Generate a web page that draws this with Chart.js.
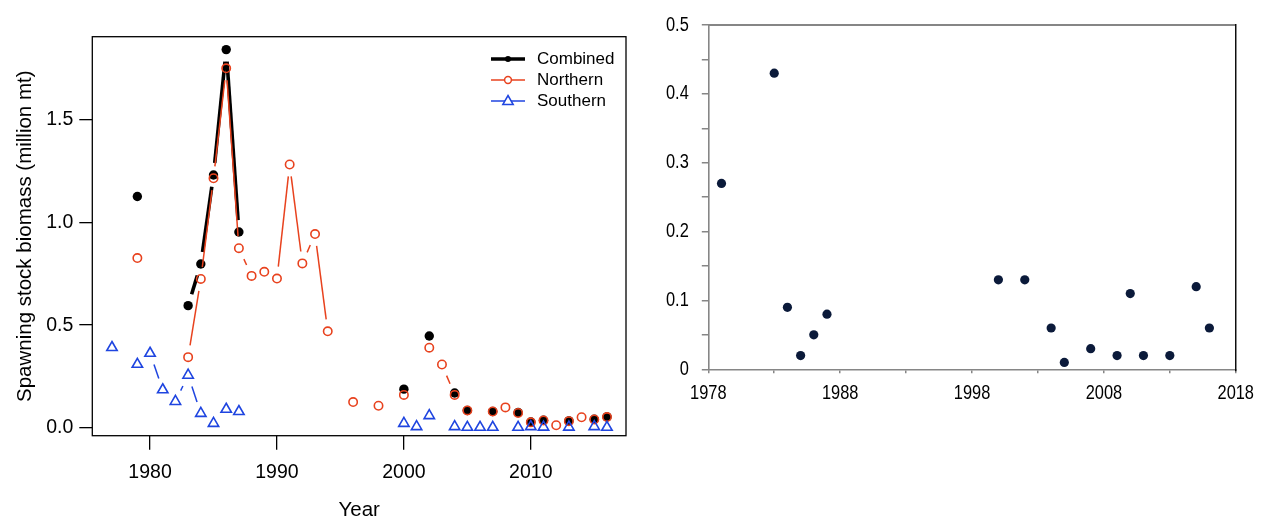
<!DOCTYPE html>
<html><head><meta charset="utf-8">
<script src="https://cdn.jsdelivr.net/npm/chart.js@4"></script>
<style>
html,body{margin:0;padding:0;background:#fff;}
#wrap{position:relative;width:1266px;height:523px;overflow:hidden;background:#fff;}
#left{position:absolute;left:0;top:0;width:640px;height:523px;}
#right{position:absolute;left:640px;top:0;width:626px;height:523px;}
#legend{position:absolute;left:491px;top:48px;font-family:"Liberation Sans",Arial,sans-serif;font-size:17px;color:#000;}
.row{display:flex;align-items:center;height:21.2px;white-space:nowrap;}
.row svg{width:34px;height:14px;margin-right:12px;flex:none;}
</style></head>
<body><div id="wrap">
<div id="left"><canvas id="c1"></canvas>
<div id="legend">
<div class="row"><svg viewBox="0 0 34 14"><line x1="0" y1="7" x2="34" y2="7" stroke="#000" stroke-width="3.5"/><circle cx="17" cy="7" r="3" fill="#000"/></svg><span>Combined</span></div>
<div class="row"><svg viewBox="0 0 34 14"><line x1="0" y1="7" x2="34" y2="7" stroke="#e8421e" stroke-width="1.5"/><circle cx="17" cy="7" r="3.4" fill="#fff" stroke="#e8421e" stroke-width="1.5"/></svg><span>Northern</span></div>
<div class="row"><svg viewBox="0 0 34 14"><line x1="0" y1="7" x2="34" y2="7" stroke="#1f45e0" stroke-width="1.5"/><polygon points="17,1.5 22.2,10.5 11.8,10.5" fill="#fff" stroke="#1f45e0" stroke-width="1.5"/></svg><span>Southern</span></div>
</div>
</div>
<div id="right"><canvas id="c2"></canvas></div>
</div>
<script>
// ---- Left panel data ----
const combinedYears  = [1979,1983,1984,1985,1986,1987,2000,2002,2004,2005,2007,2009,2010,2011,2013,2015,2016];
const combinedValues = [1.127,0.595,0.798,1.232,1.843,0.954,0.188,0.447,0.169,0.084,0.079,0.074,0.028,0.036,0.033,0.041,0.053];
const northernYears  = [1979,1983,1984,1985,1986,1987,1988,1989,1990,1991,1992,1993,1994,1996,1998,2000,2002,2003,2004,2005,2007,2008,2009,2010,2011,2012,2013,2014,2015,2016];
const northernValues = [0.827,0.344,0.725,1.216,1.752,0.875,0.740,0.760,0.727,1.283,0.801,0.944,0.470,0.125,0.107,0.160,0.390,0.308,0.160,0.084,0.079,0.099,0.072,0.026,0.035,0.012,0.032,0.051,0.040,0.052];
const southernYears  = [1977,1979,1980,1981,1982,1983,1984,1985,1986,1987,2000,2001,2002,2004,2005,2006,2007,2009,2010,2011,2013,2015,2016];
const southernValues = [0.391,0.309,0.363,0.185,0.128,0.256,0.070,0.021,0.090,0.079,0.021,0.005,0.059,0.005,0.002,0.002,0.002,0.002,0.005,0.003,0.003,0.005,0.002];
const seriesNames = ['Combined','Northern','Southern'];
const leftXTicks = [1980,1990,2000,2010];
const leftXTickLabels = ['1980','1990','2000','2010'];
const leftYTicks = [0,0.5,1.0,1.5];
const leftYTickLabels = ['0.0','0.5','1.0','1.5'];
const leftXTitle = 'Year';
const leftYTitle = 'Spawning stock biomass (million mt)';

// ---- Right panel data ----
const rightYears  = [1979,1983,1984,1985,1986,1987,2000,2002,2004,2005,2007,2009,2010,2011,2013,2015,2016];
const rightValues = [0.27,0.43,0.09,0.02,0.05,0.08,0.13,0.13,0.06,0.01,0.03,0.02,0.11,0.02,0.02,0.12,0.06];
const rightXTicks = [1978,1983,1988,1993,1998,2003,2008,2013,2018];
const rightXTickLabels = ['1978','','1988','','1998','','2008','','2018'];
const rightYTicks = [0,0.05,0.1,0.15,0.2,0.25,0.3,0.35,0.4,0.45,0.5];
const rightYTickLabels = ['0','','0.1','','0.2','','0.3','','0.4','','0.5'];

const RED = '#e8421e', BLUE = '#1f45e0';
const FONT = '"Liberation Sans", Arial, sans-serif';

function pts(xs, ys){ return xs.map((x,i)=>({x:x, y:ys[i]})); }

// R "type=b" style: line segments with a gap around each point; no line across missing years
function gapDash(gap){
  return ctx => {
    const p0 = ctx.p0, p1 = ctx.p1;
    const len = Math.hypot(p1.x - p0.x, p1.y - p0.y);
    const data = ctx.chart.data.datasets[ctx.datasetIndex].data;
    const dy = data[ctx.p1DataIndex].x - data[ctx.p0DataIndex].x;
    const vis = len - 2*gap;
    if (dy > 1.01 || vis <= 0.3) return [0, len + 1000];
    return [0, gap, vis, len + 1000];
  };
}

const boxPlugin = {
  id:'box',
  afterDraw(chart){
    const {ctx, chartArea:a} = chart;
    ctx.save(); ctx.strokeStyle='#000'; ctx.lineWidth=1.3;
    ctx.strokeRect(a.left, a.top, a.right-a.left, a.bottom-a.top);
    ctx.restore();
  }
};

new Chart(document.getElementById('c1'), {
  type:'line',
  data:{ datasets:[
    { label:seriesNames[2], data:pts(southernYears, southernValues), borderColor:BLUE, borderWidth:1.5,
      pointStyle:'triangle', pointRadius:6, pointBorderWidth:1.6, pointBorderColor:BLUE,
      pointBackgroundColor:'rgba(0,0,0,0)', segment:{borderDash:gapDash(12)} },
    { label:seriesNames[1], data:pts(northernYears, northernValues), borderColor:RED, borderWidth:1.5,
      pointStyle:'circle', pointRadius:4.2, pointBorderWidth:1.6, pointBorderColor:RED,
      pointBackgroundColor:'rgba(0,0,0,0)', segment:{borderDash:gapDash(12)} },
    { label:seriesNames[0], data:pts(combinedYears, combinedValues), borderColor:'#000', borderWidth:3.6,
      pointStyle:'circle', pointRadius:4.7, pointBorderWidth:0, pointBackgroundColor:'#000',
      segment:{borderDash:gapDash(12)} }
  ]},
  options:{
    responsive:true, maintainAspectRatio:false, animation:false, devicePixelRatio:1, events:[],
    layout:{padding:{top:36.7, right:14, left:0, bottom:0}},
    plugins:{legend:{display:false}, tooltip:{enabled:false}},
    elements:{line:{tension:0}},
    scales:{
      x:{ type:'linear', min:1975.45, max:2017.5,
        afterBuildTicks: s => { s.ticks = leftXTicks.map(v=>({value:v})); },
        afterFit: s => { s.height = 87.3; },
        ticks:{ color:'#000', font:{family:FONT, size:19.5}, padding:11, maxRotation:0,
          callback:(v)=> leftXTickLabels[leftXTicks.indexOf(v)] },
        grid:{ drawOnChartArea:false, drawTicks:true, tickLength:14, color:'#000', lineWidth:1.3 },
        border:{display:false},
        title:{ display:true, text:leftXTitle, color:'#000', font:{family:FONT, size:20.5}, padding:{top:0,bottom:0} }
      },
      y:{ type:'linear', min:-0.039, max:1.906,
        afterBuildTicks: s => { s.ticks = leftYTicks.map(v=>({value:v})); },
        afterFit: s => { s.width = 92.3; },
        ticks:{ color:'#000', font:{family:FONT, size:19.5}, padding:6,
          callback:(v)=> leftYTickLabels[leftYTicks.indexOf(v)] },
        grid:{ drawOnChartArea:false, drawTicks:true, tickLength:13, color:'#000', lineWidth:1.3 },
        border:{display:false},
        title:{ display:true, text:leftYTitle, color:'#000', font:{family:FONT, size:20.5}, padding:{top:13,bottom:0} }
      }
    }
  },
  plugins:[boxPlugin]
});

const frame2 = {
  id:'frame2',
  afterDraw(chart){
    const {ctx, chartArea:a} = chart;
    ctx.save();
    ctx.strokeStyle='#868686'; ctx.lineWidth=2;
    ctx.beginPath(); ctx.moveTo(a.left, a.top); ctx.lineTo(a.right, a.top); ctx.stroke();
    ctx.strokeStyle='#000'; ctx.lineWidth=1.4;
    ctx.beginPath(); ctx.moveTo(a.right, a.top-1); ctx.lineTo(a.right, a.bottom+2); ctx.stroke();
    ctx.restore();
  }
};

// Narrow (condensed) tick text like the reference's Arial Narrow labels
const narrowText = {
  id:'narrowText',
  beforeDraw(chart){
    const ctx = chart.ctx;
    const orig = CanvasRenderingContext2D.prototype.fillText;
    ctx.fillText = function(t, x, y){
      this.save(); this.translate(x, y); this.scale(0.82, 1);
      orig.call(this, t, 0, 0);
      this.restore();
    };
  },
  afterDraw(chart){ delete chart.ctx.fillText; }
};

new Chart(document.getElementById('c2'), {
  type:'scatter',
  data:{ datasets:[{ data:pts(rightYears, rightValues), pointRadius:4.6, pointBackgroundColor:'#0b1a3a',
    pointBorderWidth:0, showLine:false }]},
  options:{
    responsive:true, maintainAspectRatio:false, animation:false, devicePixelRatio:1, events:[],
    layout:{padding:{top:22, right:26.7, left:0, bottom:0}},
    plugins:{legend:{display:false}, tooltip:{enabled:false}},
    scales:{
      x:{ type:'linear', min:1978, max:2018,
        afterBuildTicks: s => { s.ticks = rightXTicks.map(v=>({value:v})); },
        afterFit: s => { s.height = 153.7; },
        ticks:{ color:'#000', font:{family:FONT, size:20}, padding:8, maxRotation:0, autoSkip:false,
          callback:(v)=> rightXTickLabels[rightXTicks.indexOf(v)] },
        grid:{ drawOnChartArea:false, drawTicks:true, tickLength:4, color:'#868686', lineWidth:1.5 },
        border:{display:true, color:'#868686', width:1.6}
      },
      y:{ type:'linear', min:0, max:0.5,
        afterBuildTicks: s => { s.ticks = rightYTicks.map(v=>({value:v})); },
        afterFit: s => { s.width = 68.3; },
        ticks:{ color:'#000', font:{family:FONT, size:20}, padding:13, autoSkip:false,
          callback:(v,i)=> rightYTickLabels[i] },
        grid:{ drawOnChartArea:false, drawTicks:true, tickLength:6.5, color:'#868686', lineWidth:1.5 },
        border:{display:true, color:'#868686', width:1.6}
      }
    }
  },
  plugins:[narrowText, frame2]
});
</script>
</body></html>
